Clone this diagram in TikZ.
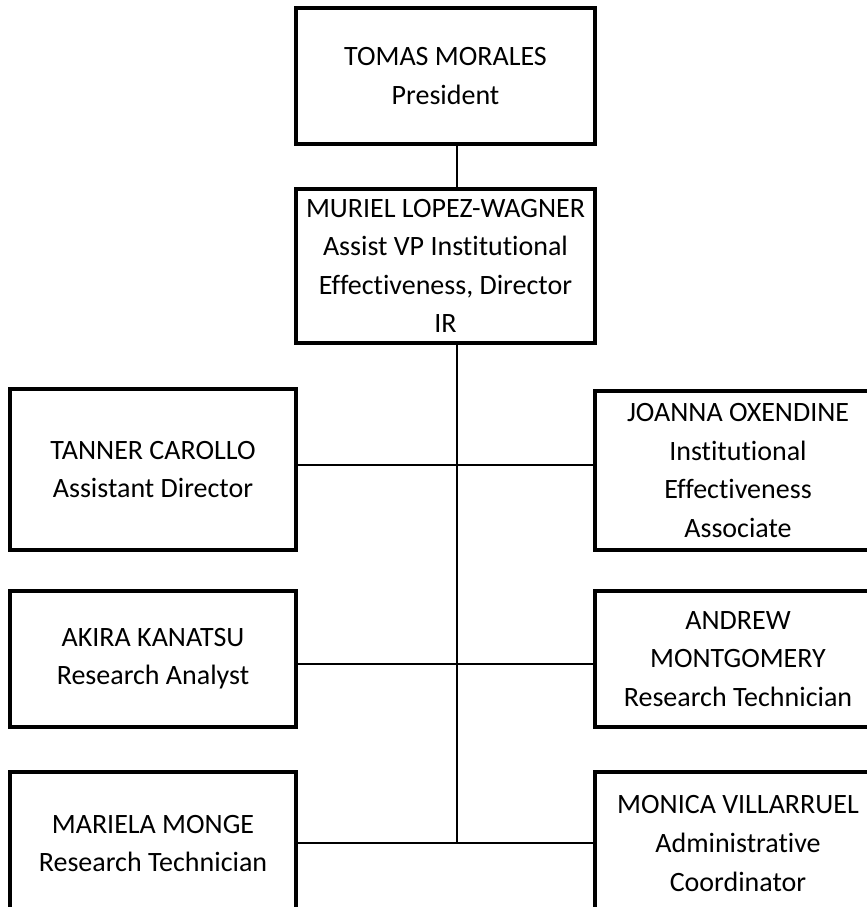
\documentclass[tikz,border=0pt]{standalone}
\usepackage{fontspec}
\setmainfont{Carlito}[Ligatures=NoCommon]
\usetikzlibrary{positioning}

\begin{document}
\begin{tikzpicture}[x=0.75pt,y=-0.75pt,
    person/.style={draw,line width=3pt,align=center,inner sep=0pt,
      font=\fontsize{21}{28.9}\selectfont},
    link/.style={line width=1.4pt}]
    \useasboundingbox (0,0) rectangle (867,907);
    \clip (0,0) rectangle (867,907);

    % Top of the chart
    \node[person,minimum width=224.25pt,minimum height=102pt] (pres) at (445.5,76) {TOMAS MORALES\\President};
    \node[person,minimum width=224.25pt,minimum height=115.5pt] (vp) at (445.5,266) {MURIEL LOPEZ-WAGNER\\Assist VP Institutional\\Effectiveness, Director\\IR};

    % Staff, left column
    \node[person,minimum width=214.5pt,minimum height=120.75pt] (tanner) at (153,469.5) {TANNER CAROLLO\\Assistant Director};
    \node[person,minimum width=214.5pt,minimum height=102pt] (akira) at (153,658.5) {AKIRA KANATSU\\Research Analyst};
    \node[person,minimum width=214.5pt,minimum height=107.25pt] (mariela) at (153,843.5) {MARIELA MONGE\\Research Technician};

    % Staff, right column
    \node[person,minimum width=214.5pt,minimum height=119.25pt] (joanna) at (738,470.5) {JOANNA OXENDINE\\Institutional\\Effectiveness\\Associate};
    \node[person,minimum width=214.5pt,minimum height=102pt] (andrew) at (738,659) {ANDREW\\MONTGOMERY\\Research Technician};
    \node[person,minimum width=214.5pt,minimum height=107.25pt] (monica) at (738,843.5) {MONICA VILLARRUEL\\Administrative\\Coordinator};

    % Junctions on the trunk
    \coordinate (j1) at (457,465);
    \coordinate (j2) at (457,664);
    \coordinate (j3) at (457,843);

    % Connectors
    \draw[link] (pres.south -| j1) -- (vp.north -| j1);
    \draw[link] (vp.south -| j1) -- (j3);
    \draw[link] (tanner.east |- j1) -- (joanna.west |- j1);
    \draw[link] (akira.east |- j2) -- (andrew.west |- j2);
    \draw[link] (mariela.east |- j3) -- (monica.west |- j3);
\end{tikzpicture}
\end{document}
